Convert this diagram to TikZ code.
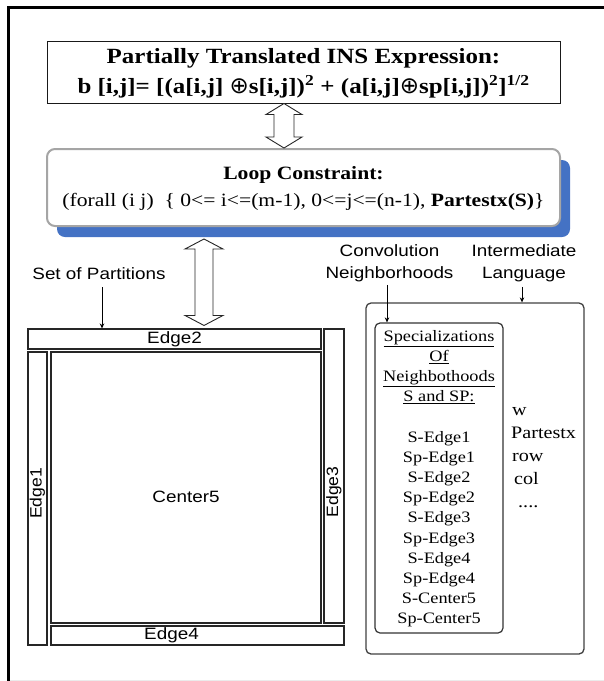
\documentclass[tikz,border=0pt]{standalone}
\usepackage{fontspec}
\setmainfont{Liberation Serif}[FakeStretch=1.15]
\newfontfamily\lsans{Liberation Sans}[FakeStretch=1.15]
\newfontfamily\lsansr{Liberation Sans}[FakeStretch=1.07]
\newfontfamily\djv{DejaVu Sans}
\usetikzlibrary{calc,shadows,arrows.meta}
\definecolor{shadowblue}{RGB}{68,114,196}
\definecolor{loopgray}{RGB}{165,165,165}
\newcommand\dblarrow[5]{%
 \draw[blockarr] (#1) -- ($(#1)+(#3,#5)$) -- ($(#1)+(#4,#5)$) -- ($(#2)+(#4,-#5)$) -- ($(#2)+(#3,-#5)$) -- (#2) -- ($(#2)+(-#3,-#5)$) -- ($(#2)+(-#4,-#5)$) -- ($(#1)+(-#4,#5)$) -- ($(#1)+(-#3,#5)$) -- cycle;}
\newcommand\xoplus{{\djv\mdseries\fontsize{23}{30}\selectfont ⊕}}
\begin{document}
\begin{tikzpicture}[x=1pt,y=-1pt,
  part/.style={draw=black!85, line width=1.1pt, inner sep=0pt},
  lbl/.style={font=\lsans\fontsize{16.4}{22}\selectfont, inner sep=0pt, anchor=base},
  rlbl/.style={font=\lsansr\fontsize{16.4}{22}\selectfont, inner sep=0pt, rotate=90},
  ptr/.style={-{Stealth[length=5pt,width=4.5pt]}, line width=0.8pt},
  blockarr/.style={draw=black!85, line width=0.9pt, fill=white, line join=miter},
]
\useasboundingbox (0,0) rectangle (604,681);
% page frame
\draw[line width=3pt] (8.5,681) -- (8.5,7.5) -- (604,7.5);
\draw[black!8, line width=1pt] (10,680) -- (604,680);

% top expression box
\node[draw=black!90, line width=1pt, minimum width=513pt, minimum height=62pt, inner sep=0pt,
      font=\bfseries\fontsize{21.7}{30}\selectfont] (top) at (303.5,72)
  {\begin{tabular}{@{}c@{}}Partially Translated INS Expression:\\
   b [i,j]= [(a[i,j] \xoplus s[i,j])\textsuperscript{2} + (a[i,j]\xoplus sp[i,j])\textsuperscript{2}]\textsuperscript{1/2}\end{tabular}};

% loop constraint box
\node[draw=loopgray, line width=2pt, fill=white, rounded corners=8pt,
      minimum width=513pt, minimum height=77pt, inner sep=0pt,
      drop shadow={fill=shadowblue, opacity=1, shadow xshift=10pt, shadow yshift=-11pt},
      font=\fontsize{18.8}{27}\selectfont] (loop) at (303.5,187.5)
  {\raisebox{-1.5pt}{\begin{tabular}{@{}c@{}}\textbf{Loop Constraint:}\\
   (forall (i j)\ \ \{ 0<= i<=(m-1), 0<=j<=(n-1), \textbf{Partestx(S)}\}\end{tabular}}};

% partitions
\node[part, minimum width=293pt, minimum height=20pt] (e2) at (174.5,339) {};
\node[lbl, anchor=center] (e2t) at (e2.center) {Edge2};
\node[part, minimum width=19pt, minimum height=293pt] (e1) at (37.5,498.5) {};
\node[rlbl] (e1t) at ($(e1.center)+(0,-5)$) {Edge1};
\node[part, minimum width=270pt, minimum height=271pt] (c5) at (186,487.5) {};
\node[lbl, anchor=center] (c5t) at ($(c5.center)+(0,9)$) {Center5};
\node[part, minimum width=20pt, minimum height=294pt] (e3) at (334,476) {};
\node[rlbl] (e3t) at ($(e3.center)+(0,16)$) {Edge3};
\node[part, minimum width=293pt, minimum height=19pt] (e4) at (197.5,635.5) {};
\node[lbl, anchor=center] (e4t) at ($(e4.center)+(-26,0)$) {Edge4};

% block arrows
\path (284,0) coordinate (ax1) (204,0) coordinate (ax2);
\coordinate (a1t) at (top.south -| ax1);
\coordinate (a1b) at (loop.north -| ax1);
\dblarrow{a1t}{a1b}{18}{10}{11}
\coordinate (a2t) at ($(loop.south -| ax2)+(0,12)$);
\coordinate (a2b) at ($(e2.north -| ax2)+(0,-3)$);
\dblarrow{a2t}{a2b}{19}{9}{10}

% labels
\node[lbl] (sop) at (99,279) {Set of Partitions};
\node[lbl] (conv) at (389.5,256) {\begin{tabular}[t]{@{}c@{}}Convolution\\Neighborhoods\end{tabular}};
\node[lbl] (il) at (524,256) {\begin{tabular}[t]{@{}c@{}}Intermediate\\Language\end{tabular}};

% intermediate language boxes
\node[draw=black!75, line width=1.3pt, rounded corners=5pt, minimum width=218pt, minimum height=351pt, inner sep=0pt] (outer) at (475,478.5) {};
\node[draw=black!80, line width=1.2pt, rounded corners=5pt, minimum width=128pt, minimum height=310pt, inner sep=0pt] (inner) at (439,478) {};
\node[font=\fontsize{15.9}{20.2}\selectfont, anchor=base, inner sep=0pt] (spec) at (439,341)
  {\begin{tabular}[t]{@{}c@{}}\underline{Specializations}\\ \underline{Of}\\ \underline{Neighbothoods}\\ \underline{S and SP:}\\ \\
   S-Edge1\\ Sp-Edge1\\ S-Edge2\\ Sp-Edge2\\ S-Edge3\\ Sp-Edge3\\ S-Edge4\\ Sp-Edge4\\ S-Center5\\ Sp-Center5\end{tabular}};
\node[font=\fontsize{17.5}{23}\selectfont, anchor=base west, inner sep=0pt] (iltext) at (511,415)
  {\begin{tabular}[t]{@{}l@{}}\hspace{1pt}w\\ Partestx\\ \hspace{1pt}row\\ \hspace{3pt}col\\ \hspace{7pt}....\end{tabular}};

% pointer arrows
\coordinate (p1) at ($(sop.base)+(3,8)$);
\draw[ptr] (p1) -- (p1 |- e2.north);
\coordinate (p2) at ($(conv.south)+(-2.5,0)$);
\draw[ptr] (p2) -- (p2 |- inner.north);
\coordinate (p3) at ($(il.south)+(-2,2)$);
\draw[ptr] (p3) -- (p3 |- outer.north);
\end{tikzpicture}
\end{document}
